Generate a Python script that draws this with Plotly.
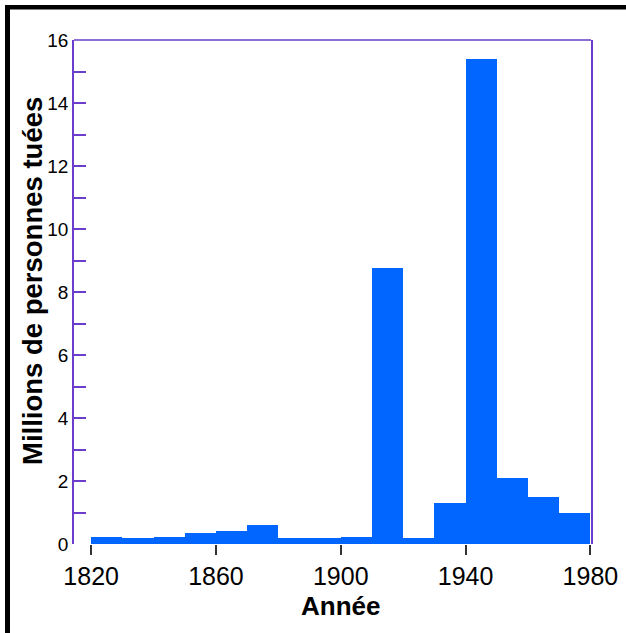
import plotly.graph_objects as go

# Data
decades = [1820, 1830, 1840, 1850, 1860, 1870, 1880, 1890,
           1900, 1910, 1920, 1930, 1940, 1950, 1960, 1970]
killed_millions = [0.23, 0.18, 0.23, 0.36, 0.40, 0.60, 0.18, 0.18,
                   0.23, 8.76, 0.18, 1.31, 15.39, 2.10, 1.48, 0.99]
x_ticks = [1820, 1860, 1900, 1940, 1980]
y_ticks = [0, 2, 4, 6, 8, 10, 12, 14, 16]
x_title = "Année"
y_title = "Millions de personnes tuées"

W, H = 626, 633
L, R, T, B = 74, 35, 40, 89
PW = W - L - R
PH = H - T - B
PURPLE = "#6a3dcc"
FONT = "Liberation Sans, Arial, Helvetica, sans-serif"


def px_x(px):
    return (px - L) / PW


def px_y(py):
    return (H - B - py) / PH


fig = go.Figure()
fig.add_trace(go.Bar(
    x=decades, y=killed_millions, width=10, offset=0,
    marker=dict(color="#0066ff", line=dict(width=0)),
    hoverinfo="x+y",
))

fig.update_layout(
    width=W, height=H,
    margin=dict(l=L, r=R, t=T, b=B, autoexpand=False),
    paper_bgcolor="white", plot_bgcolor="white",
    showlegend=False,
    bargap=0,
    font=dict(family=FONT, color="black"),
    xaxis=dict(
        range=[1814.5, 1980.2],
        tickvals=x_ticks, ticktext=[str(v) for v in x_ticks],
        ticks="outside", ticklen=10, tickwidth=1.5, tickcolor="#333333",
        showline=False, showgrid=False, zeroline=False, automargin=False,
        tickfont=dict(size=25, family=FONT, color="black"),
    ),
    yaxis=dict(
        range=[0, 16],
        tickvals=y_ticks,
        ticks="inside", ticklen=12, tickwidth=1.5, tickcolor=PURPLE,
        minor=dict(dtick=1, ticks="inside", ticklen=12, tickwidth=1.5, tickcolor=PURPLE, showgrid=False),
        showline=True, linecolor=PURPLE, linewidth=1.5, mirror=True,
        showgrid=False, zeroline=False, automargin=False,
        tickfont=dict(size=19, family=FONT, color="black"),
    ),
    shapes=[
        dict(type="line", xref="paper", yref="paper", x0=0, x1=1, y0=1, y1=1,
             line=dict(color=PURPLE, width=1.5)),
        dict(type="rect", xref="paper", yref="paper",
             x0=px_x(5), x1=px_x(10), y0=px_y(H + 5), y1=px_y(5),
             fillcolor="black", line=dict(width=0)),
        dict(type="rect", xref="paper", yref="paper",
             x0=px_x(5), x1=px_x(W + 5), y0=px_y(9.5), y1=px_y(5),
             fillcolor="black", line=dict(width=0)),
    ],
    annotations=[
        dict(text=f"<b>{x_title}</b>", xref="x", yref="paper", x=1900, y=px_y(606),
             showarrow=False, xanchor="center", yanchor="middle",
             font=dict(size=26, family=FONT, color="black")),
        dict(text=f"<b>{y_title}</b>", xref="paper", yref="paper", x=px_x(32), y=px_y(281),
             showarrow=False, xanchor="center", yanchor="middle", textangle=-90,
             font=dict(size=27.5, family=FONT, color="black")),
    ],
)

fig.write_html(
    "out.html",
    config={"displayModeBar": False},
    post_script="document.body.style.margin='0';document.body.style.overflow='hidden';",
)
